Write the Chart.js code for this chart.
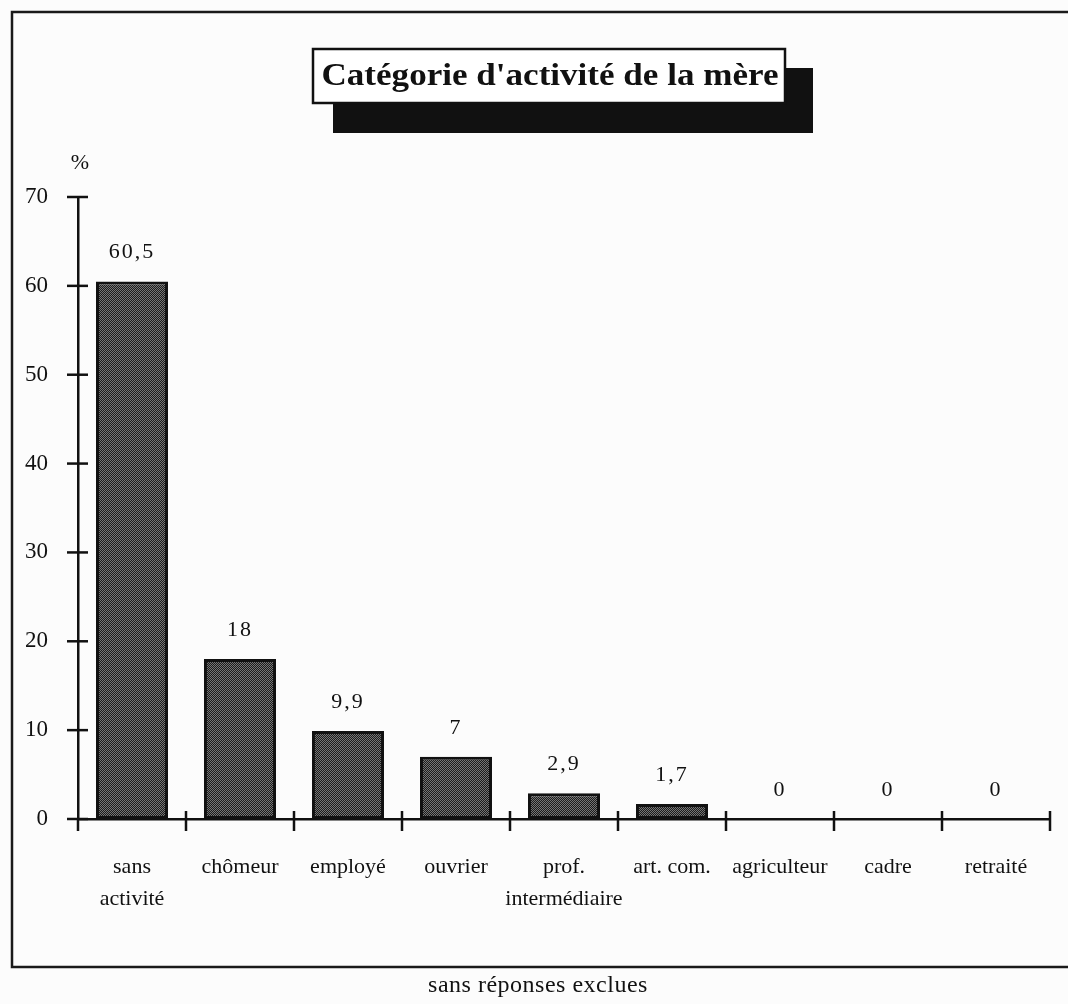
<!DOCTYPE html>
<html>
<head>
<meta charset="utf-8">
<script src="https://cdn.jsdelivr.net/npm/chart.js@4.4.1/dist/chart.umd.min.js"></script>
<style>
  html, body { margin: 0; padding: 0; background: #fcfcfc; }
  #wrap { position: relative; width: 1068px; height: 1004px; }
</style>
</head>
<body>
<div id="wrap"><canvas id="activiteChart" width="1068" height="1004"></canvas></div>
<script>
const categories = [
  ["sans", "activité"],
  "chômeur",
  "employé",
  "ouvrier",
  ["prof.", "intermédiaire"],
  "art. com.",
  "agriculteur",
  "cadre",
  "retraité",
];
const percentages = [60.5, 18, 9.9, 7, 2.9, 1.7, 0, 0, 0];
const yTicks = [0, 10, 20, 30, 40, 50, 60, 70];

const chartTitle = "Catégorie d'activité de la mère";
const footNote = "sans réponses exclues";
const serif = "'Liberation Serif', 'DejaVu Serif', serif";

// motif tramé des barres
function makePattern() {
  const c = document.createElement("canvas");
  c.width = 2;
  c.height = 2;
  const g = c.getContext("2d");
  g.fillStyle = "#1c1c1c";
  g.fillRect(0, 0, 2, 2);
  g.fillStyle = "#757575";
  g.fillRect(0, 0, 1, 1);
  g.fillRect(1, 1, 1, 1);
  return g.createPattern(c, "repeat");
}

const decorPlugin = {
  id: "decor",
  beforeDraw(chart) {
    const ctx = chart.ctx;
    ctx.save();
    ctx.fillStyle = "#fcfcfc";
    ctx.fillRect(0, 0, chart.width, chart.height);

    // cadre
    ctx.strokeStyle = "#1a1a1a";
    ctx.lineWidth = 2.5;
    ctx.strokeRect(12, 12, 1100, 955);

    // ombre + boite du titre
    ctx.fillStyle = "#111";
    ctx.fillRect(333, 68, 480, 65);
    ctx.fillStyle = "#fff";
    ctx.fillRect(313, 49, 472, 54);
    ctx.strokeStyle = "#111";
    ctx.lineWidth = 2.5;
    ctx.strokeRect(313, 49, 472, 54);

    ctx.fillStyle = "#111";
    ctx.font = "bold 31px " + serif;
    ctx.textAlign = "center";
    ctx.textBaseline = "alphabetic";
    const w = ctx.measureText(chartTitle).width;
    const sx = 457 / w;
    ctx.translate(550, 85);
    ctx.scale(sx, 1);
    ctx.fillText(chartTitle, 0, 0);
    ctx.restore();

    ctx.save();
    ctx.fillStyle = "#111";
    ctx.font = "22px " + serif;
    ctx.textAlign = "center";
    ctx.textBaseline = "middle";
    ctx.fillText("%", 80, 163);
    ctx.font = "24px " + serif;
    ctx.letterSpacing = "0.5px";
    ctx.fillText(footNote, 538, 986);
    ctx.restore();
  },
  afterDraw(chart) {
    const ctx = chart.ctx;
    const x = chart.scales.x;
    const y = chart.scales.y;
    const y0 = y.getPixelForValue(0);
    ctx.save();
    ctx.strokeStyle = "#111";
    ctx.lineWidth = 2.5;

    // graduations de l'axe Y (traversantes)
    yTicks.forEach((v) => {
      const py = y.getPixelForValue(v);
      ctx.beginPath();
      ctx.moveTo(x.left - 11, py);
      ctx.lineTo(x.left + 10, py);
      ctx.stroke();
    });

    // graduations de l'axe X aux limites des catégories
    const step = (x.right - x.left) / categories.length;
    for (let i = 0; i <= categories.length; i++) {
      const px = x.left + i * step;
      ctx.beginPath();
      ctx.moveTo(px, i === 0 ? y0 : y0 - 8);
      ctx.lineTo(px, y0 + 12);
      ctx.stroke();
    }

    // valeurs au-dessus des barres
    ctx.fillStyle = "#111";
    ctx.font = "22px " + serif;
    ctx.letterSpacing = "2px";
    ctx.textAlign = "center";
    ctx.textBaseline = "alphabetic";
    const meta = chart.getDatasetMeta(0);
    meta.data.forEach((bar, i) => {
      const label = String(percentages[i]).replace(".", ",");
      ctx.fillText(label, bar.x, bar.y - 23);
    });
    ctx.restore();
  },
};

const ctx = document.getElementById("activiteChart").getContext("2d");

const activiteChart = new Chart(ctx, {
  type: "bar",
  data: {
    labels: categories,
    datasets: [
      {
        label: "%",
        data: percentages,
        backgroundColor: makePattern(),
        borderColor: "#111",
        borderWidth: 3,
        borderSkipped: false,
        categoryPercentage: 1,
        barPercentage: 0.667,
      },
    ],
  },
  options: {
    responsive: false,
    animation: false,
    devicePixelRatio: 1,
    layout: {
      padding: { top: 197, right: 18, bottom: 0, left: 0 },
    },
    plugins: {
      legend: { display: false },
      title: { display: false },
      tooltip: { enabled: false },
    },
    scales: {
      x: {
        grid: { display: false, drawTicks: false },
        border: { display: true, color: "#111", width: 2.5 },
        ticks: {
          color: "#111",
          font: { family: serif, size: 22, lineHeight: 1.45 },
          padding: 32,
          maxRotation: 0,
          autoSkip: false,
        },
        afterFit(scale) {
          scale.height = 185;
        },
      },
      y: {
        min: 0,
        max: 70,
        grid: { display: false, drawTicks: false },
        border: { display: true, color: "#111", width: 2.5 },
        ticks: {
          stepSize: 10,
          color: "#111",
          font: { family: serif, size: 23 },
          padding: 30,
        },
        afterFit(scale) {
          scale.width = 78;
        },
      },
    },
  },
  plugins: [decorPlugin],
});
</script>
</body>
</html>
